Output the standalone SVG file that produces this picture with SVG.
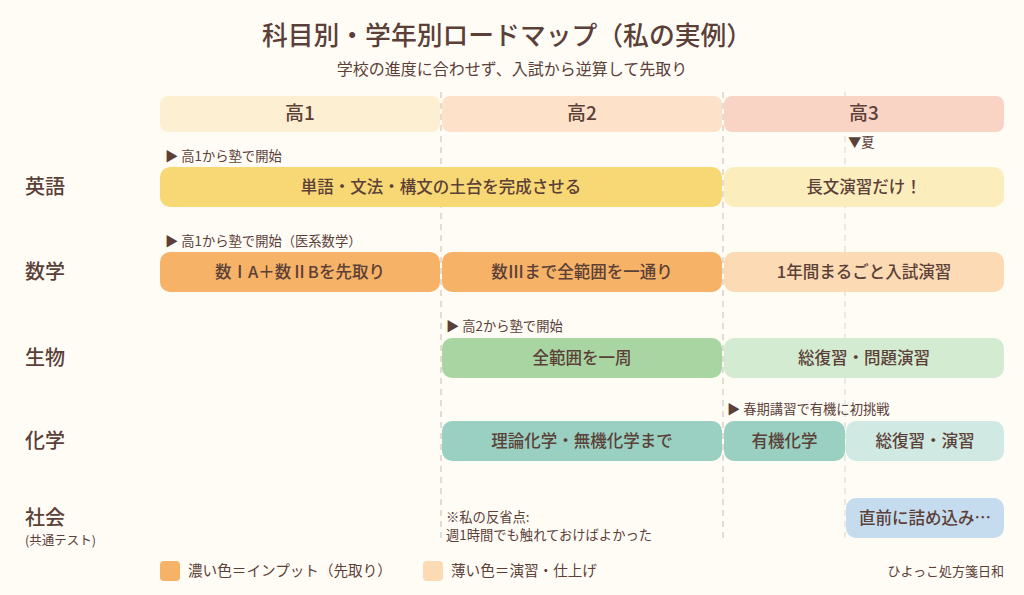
<svg xmlns="http://www.w3.org/2000/svg" width="1024" height="595" viewBox="0 0 1024 595">
<style>
text{font-family:"Noto Sans CJK JP","Noto Sans",sans-serif;fill:#5b4038}
.t{font-size:25.8px;font-weight:500;text-anchor:middle}
.st{font-size:16px;text-anchor:middle}
.hd{font-size:19px;text-anchor:middle;font-weight:500}
.rl{font-size:20px;font-weight:500}
.bl{font-size:16.5px;text-anchor:middle;font-weight:500}
.an{font-size:13.3px}
.lg{font-size:14.6px}
.grid{stroke:#cfc6bd;stroke-width:1.2;stroke-dasharray:6 5;fill:none}
.grid2{stroke:#e2dbd3;stroke-width:1.2;stroke-dasharray:6 5;fill:none}
</style>
<rect width="1024" height="595" fill="#fffcf6"/>
<text class="t" x="507" y="45">科目別・学年別ロードマップ（私の実例）</text>
<text class="st" x="512" y="75">学校の進度に合わせず、入試から逆算して先取り</text>
<g id="grid">
<line class="grid" x1="441" y1="92" x2="441" y2="543"/>
<line class="grid" x1="723" y1="92" x2="723" y2="543"/>
<line class="grid2" x1="845" y1="92" x2="845" y2="543"/>
</g>
<g id="header-1"><rect x="160" y="96" width="280" height="36" rx="8" fill="#fdefd1"/><text class="hd" x="300" y="120">高1</text></g>
<g id="header-2"><rect x="442" y="96" width="280" height="36" rx="8" fill="#fde2c9"/><text class="hd" x="582" y="120">高2</text></g>
<g id="header-3"><rect x="724" y="96" width="280" height="36" rx="8" fill="#f9d3c3"/><text class="hd" x="864" y="120">高3</text></g>
<text class="an" x="848" y="147">▼夏</text>
<g id="labels">
<text class="rl" x="25" y="194">英語</text>
<text class="rl" x="25" y="279">数学</text>
<text class="rl" x="25" y="365">生物</text>
<text class="rl" x="25" y="448">化学</text>
<text class="rl" x="25" y="525">社会</text>
<text style="font-size:12.5px" x="25" y="545">(共通テスト)</text>
</g>
<g id="notes">
<text class="an" x="165" y="161">▶ 高1から塾で開始</text>
<text class="an" x="165" y="246">▶ 高1から塾で開始（医系数学）</text>
<text class="an" x="446" y="331">▶ 高2から塾で開始</text>
<text class="an" x="727" y="414">▶ 春期講習で有機に初挑戦</text>
<text class="an" x="446" y="522">※私の反省点:</text>
<text class="an" x="446" y="540">週1時間でも触れておけばよかった</text>
</g>
<g id="eng-1"><rect x="160" y="167" width="562" height="40" rx="10" fill="#f8d775"/><text class="bl" x="441" y="193">単語・文法・構文の土台を完成させる</text></g>
<g id="eng-2"><rect x="724" y="167" width="280" height="40" rx="10" fill="#fcedbd"/><text class="bl" x="864" y="193">長文演習だけ！</text></g>
<g id="math-1"><rect x="160" y="252" width="280" height="40" rx="10" fill="#f6b266"/><text class="bl" x="300" y="278">数ⅠA＋数ⅡBを先取り</text></g>
<g id="math-2"><rect x="442" y="252" width="280" height="40" rx="10" fill="#f6b266"/><text class="bl" x="582" y="278">数Ⅲまで全範囲を一通り</text></g>
<g id="math-3"><rect x="724" y="252" width="280" height="40" rx="10" fill="#fbdab4"/><text class="bl" x="864" y="278">1年間まるごと入試演習</text></g>
<g id="bio-1"><rect x="442" y="338" width="280" height="40" rx="10" fill="#a8d5a2"/><text class="bl" x="582" y="364">全範囲を一周</text></g>
<g id="bio-2"><rect x="724" y="338" width="280" height="40" rx="10" fill="#d3ebd1"/><text class="bl" x="864" y="364">総復習・問題演習</text></g>
<g id="chem-1"><rect x="442" y="421" width="280" height="40" rx="10" fill="#99d0c1"/><text class="bl" x="582" y="447">理論化学・無機化学まで</text></g>
<g id="chem-2"><rect x="724" y="421" width="121" height="40" rx="10" fill="#99d0c1"/><text class="bl" x="784.5" y="447">有機化学</text></g>
<g id="chem-3"><rect x="846" y="421" width="158" height="40" rx="10" fill="#d0e9e2"/><text class="bl" x="925" y="447">総復習・演習</text></g>
<g id="soc-1"><rect x="846" y="498" width="158" height="40" rx="10" fill="#c5dcee"/><text class="bl" x="925" y="524">直前に詰め込み…</text></g>
<g id="legend">
<rect x="160" y="561" width="20" height="20" rx="4" fill="#f6b266"/>
<text class="lg" x="188" y="576">濃い色＝インプット（先取り）</text>
<rect x="423" y="561" width="20" height="20" rx="4" fill="#fbdab4"/>
<text class="lg" x="451" y="576">薄い色＝演習・仕上げ</text>
<text class="an" x="1004" y="576" text-anchor="end" style="font-size:13px">ひよっこ処方箋日和</text>
</g>
</svg>
